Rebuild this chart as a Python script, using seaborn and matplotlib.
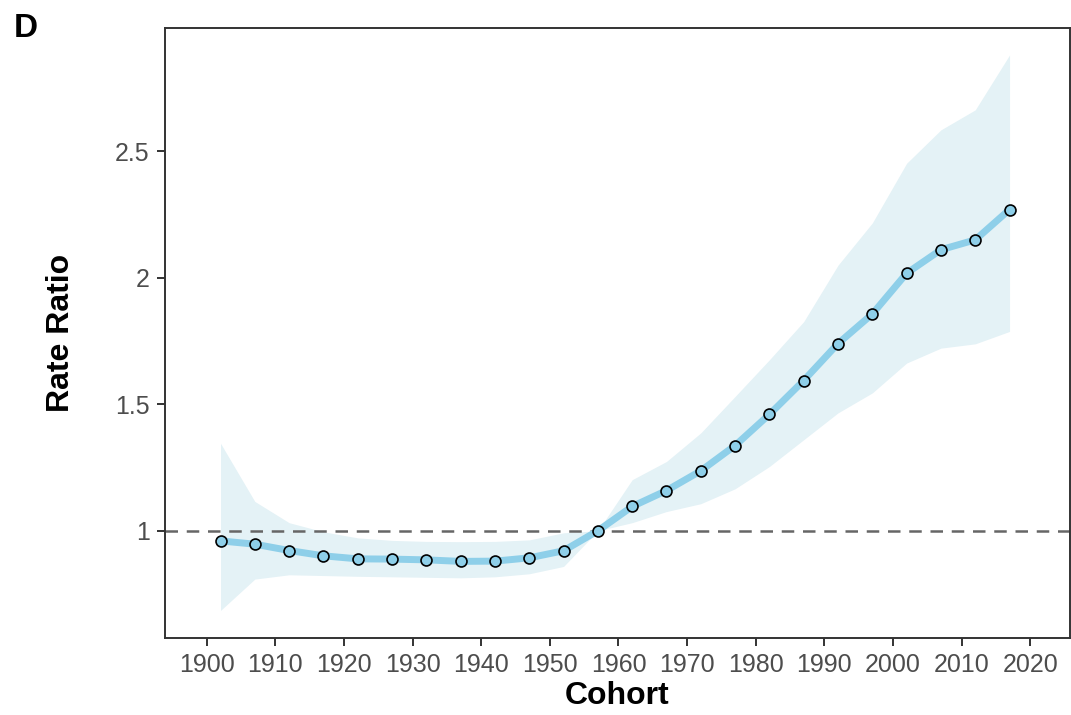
import matplotlib
matplotlib.use("Agg")
import matplotlib.pyplot as plt
import seaborn as sns
import pandas as pd
import numpy as np

# cohort effects
cohort = [1902, 1907, 1912, 1917, 1922, 1927, 1932, 1937, 1942, 1947, 1952, 1957,
          1962, 1967, 1972, 1977, 1982, 1987, 1992, 1997, 2002, 2007, 2012, 2017]
rr = [0.960, 0.947, 0.922, 0.901, 0.889, 0.888, 0.885, 0.879, 0.880, 0.893, 0.921, 1.000,
      1.096, 1.159, 1.237, 1.337, 1.460, 1.594, 1.740, 1.857, 2.018, 2.111, 2.150, 2.270]
lower = [0.685, 0.809, 0.826, 0.823, 0.820, 0.818, 0.816, 0.814, 0.818, 0.830, 0.859, 1.000,
         1.032, 1.076, 1.107, 1.166, 1.254, 1.360, 1.466, 1.545, 1.663, 1.722, 1.739, 1.788]
upper = [1.346, 1.116, 1.032, 0.996, 0.972, 0.962, 0.958, 0.957, 0.958, 0.964, 0.992, 1.000,
         1.202, 1.274, 1.387, 1.531, 1.676, 1.827, 2.050, 2.217, 2.453, 2.585, 2.664, 2.881]

xticks = list(range(1900, 2021, 10))
yticks = [1, 1.5, 2, 2.5]
ytick_labels = ["1", "1.5", "2", "2.5"]

df = pd.DataFrame({"Cohort": cohort, "RR": rr, "lo": lower, "hi": upper})

sns.set_style("ticks")
plt.rcParams['font.family'] = ['Liberation Sans', 'DejaVu Sans']

fig = plt.figure(figsize=(10.71, 7.15), dpi=100)
ax = fig.add_axes([0.154, 0.108, 0.845, 0.853])

line_col = "#8ECFE9"
ax.fill_between(df["Cohort"], df["lo"], df["hi"], color="#E4F2F6", linewidth=0, zorder=1)
ax.axhline(1, color="#666666", linestyle=(0, (5, 3.5)), linewidth=1.8, zorder=2)
sns.lineplot(data=df, x="Cohort", y="RR", color=line_col, linewidth=5, ax=ax, zorder=3)
sns.scatterplot(data=df, x="Cohort", y="RR", color=line_col, edgecolor="black",
                linewidth=1.2, s=62, ax=ax, zorder=4)

ax.set_xlim(1893.9, 2025.8)
ax.set_ylim(0.577, 2.988)
ax.set_xticks(xticks)
ax.set_yticks(yticks)
ax.set_yticklabels(ytick_labels)
ax.tick_params(axis="both", labelsize=18, labelcolor="#4D4D4D", color="#333333",
               length=6, width=1.4, pad=5)

for s in ax.spines.values():
    s.set_color("#333333")
    s.set_linewidth(1.4)
    s.set_clip_on(False)

ax.set_xlabel("Cohort", fontsize=23, fontweight="bold", color="black", labelpad=3)
ax.set_ylabel("Rate Ratio", fontsize=23, fontweight="bold", color="black", labelpad=28)

fig.text(0.013, 0.96, "D", fontsize=24, fontweight="bold", color="black",
         va="center", ha="left")

fig.savefig("out.png", dpi=100)
